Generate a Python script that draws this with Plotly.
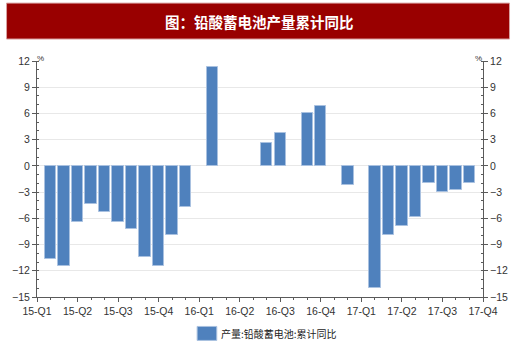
import plotly.graph_objects as go

# Monthly cumulative YoY change of lead-acid battery output (%), Jan 2015 - Oct 2017
months = [
    "2015-01", "2015-02", "2015-03", "2015-04", "2015-05", "2015-06",
    "2015-07", "2015-08", "2015-09", "2015-10", "2015-11", "2015-12",
    "2016-01", "2016-02", "2016-03", "2016-04", "2016-05", "2016-06",
    "2016-07", "2016-08", "2016-09", "2016-10", "2016-11", "2016-12",
    "2017-01", "2017-02", "2017-03", "2017-04", "2017-05", "2017-06",
    "2017-07", "2017-08", "2017-09", "2017-10",
]
yoy_values = [
    None, -10.6, -11.5, -6.4, -4.4, -5.3,
    -6.4, -7.2, -10.4, -11.4, -7.9, -4.7,
    None, 11.3, None, None, None, 2.6,
    3.8, None, 6.0, 6.9, None, -2.2,
    None, -14.0, -7.9, -6.9, -5.9, -1.9,
    -3.0, -2.8, -2.0, None,
]
quarter_labels = ["15-Q1", "15-Q2", "15-Q3", "15-Q4", "16-Q1", "16-Q2",
                  "16-Q3", "16-Q4", "17-Q1", "17-Q2", "17-Q3", "17-Q4"]
y_ticks = [12, 9, 6, 3, 0, -3, -6, -9, -12, -15]

title_text = "图：铅酸蓄电池产量累计同比"
series_name = "产量:铅酸蓄电池:累计同比"

W, H = 520, 346
ML, MR, MT, MB = 37, 29, 61, 48.5
PW, PH = W - ML - MR, H - MT - MB


def px_x(px):
    return (px - ML) / PW


def px_y(py):
    return (H - MB - py) / PH


x_idx = list(range(len(months)))
quarter_pos = [i for i, m in enumerate(months) if m[-2:] in ("01", "04", "07", "10")]

tick_font = dict(family="Liberation Sans, Arial, sans-serif", size=10.5, color="#333333")
axis_color = "#5a5a5a"

fig = go.Figure()
fig.add_trace(go.Bar(
    x=x_idx, y=yoy_values, name=series_name, width=0.84,
    marker=dict(color="#4f81bd", line=dict(color="#a9c1e0", width=1)),
))
# carrier for the mirrored right-hand axis
fig.add_trace(go.Scatter(x=[x_idx[0]], y=[None], yaxis="y2", showlegend=False,
                         hoverinfo="skip", mode="markers"))

fig.update_layout(
    width=W, height=H,
    margin=dict(l=ML, r=MR, t=MT, b=MB),
    paper_bgcolor="white", plot_bgcolor="white",
    showlegend=False, bargap=0,
    xaxis=dict(
        range=[0, len(months) - 1], tickmode="array", tickvals=quarter_pos,
        ticktext=quarter_labels, ticks="outside", ticklen=4, tickcolor=axis_color,
        showline=True, linecolor=axis_color, linewidth=1, showgrid=False,
        zeroline=False, tickfont=tick_font,
        minor=dict(ticks="outside", dtick=1, ticklen=2, tickcolor=axis_color, showgrid=False),
    ),
    yaxis=dict(
        range=[-15, 12], tickmode="array", tickvals=y_ticks, ticks="outside",
        ticklen=4, tickcolor=axis_color, showline=True, linecolor=axis_color,
        linewidth=1, showgrid=True, gridcolor="#e8e8e8", gridwidth=1,
        zeroline=False, tickfont=tick_font,
        minor=dict(ticks="inside", dtick=1, ticklen=2, tickcolor=axis_color, showgrid=False),
    ),
    yaxis2=dict(
        range=[-15, 12], overlaying="y", side="right", tickmode="array",
        tickvals=y_ticks, ticks="outside", ticklen=4, tickcolor=axis_color,
        showline=True, linecolor=axis_color, linewidth=1, showgrid=False,
        zeroline=False, tickfont=tick_font,
        minor=dict(ticks="inside", dtick=1, ticklen=2, tickcolor=axis_color, showgrid=False),
    ),
)

# title banner
fig.add_shape(type="rect", xref="paper", yref="paper",
              x0=px_x(6), x1=px_x(518), y0=px_y(39), y1=px_y(3),
              fillcolor="#990000", line=dict(color="#d9a0a0", width=1), layer="below")
fig.add_annotation(xref="paper", yref="paper", x=px_x(263), y=px_y(21),
                   text="<b>" + title_text + "</b>", showarrow=False,
                   font=dict(family="Noto Sans CJK SC", size=14.5, color="white"),
                   xanchor="center", yanchor="middle")

# unit labels on both axes
for px in (41, 486):
    fig.add_annotation(xref="paper", yref="paper", x=px_x(px), y=px_y(58),
                       text="%", showarrow=False,
                       font=dict(family="Liberation Sans", size=8, color="#333333"),
                       xanchor="center", yanchor="middle")

# legend swatch and label
fig.add_shape(type="rect", xref="paper", yref="paper",
              x0=px_x(200), x1=px_x(220), y0=px_y(341), y1=px_y(327),
              fillcolor="#4f81bd", line=dict(color="#a9c1e0", width=1))
fig.add_annotation(xref="paper", yref="paper", x=px_x(222), y=px_y(334),
                   text=series_name, showarrow=False,
                   font=dict(family="Noto Sans CJK SC", size=10, color="#222222"),
                   xanchor="left", yanchor="middle")

fig.write_html("out.html")
